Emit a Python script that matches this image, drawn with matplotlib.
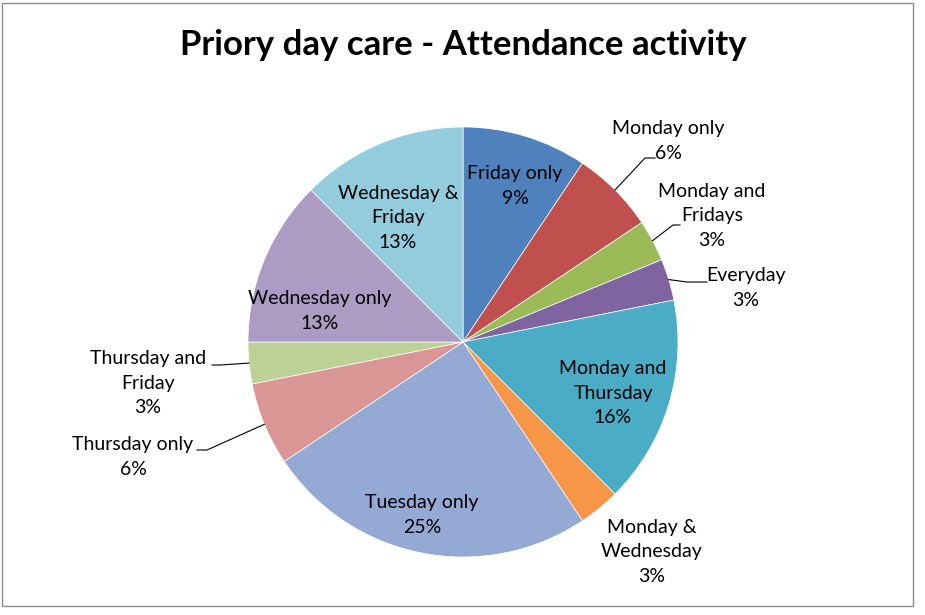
import matplotlib.pyplot as plt
from matplotlib.patches import Rectangle
import numpy as np

plt.rcParams['font.family'] = ['Lato', 'DejaVu Sans']

# attendance counts (32 children), shown as rounded percentages
labels = ["Friday only", "Monday only", "Monday and\nFridays", "Everyday",
          "Monday and\nThursday", "Monday &\nWednesday", "Tuesday only",
          "Thursday only", "Thursday and\nFriday", "Wednesday only",
          "Wednesday &\nFriday"]
counts = [3, 2, 1, 1, 5, 1, 8, 2, 1, 4, 4]
colors = ["#4F81BD", "#C0504D", "#9BBB59", "#8064A2", "#4BACC6", "#F79646",
          "#95A9D5", "#D99694", "#BCD195", "#AC9CC4", "#93CCDD"]

W, H = 925, 615
cx, cy, R = 463, H - 342, 215

# label centres in reference pixels (x from left, y from top)
label_xy = [(515, 186), (668, 141), (712, 216), (746, 288), (613, 393),
            (652, 552), (422, 515), (133, 457), (148, 383), (320, 311),
            (398, 218)]
# leader lines: (elbow, end) in reference pixels, None = no leader
leaders = [None, ((645, 158), (655, 158)), ((673, 225), (680, 225)),
           ((687, 282), (707, 282)), None, None, None,
           ((207, 450), (197, 450)), ((220, 365), (212, 365)), None, None]

fig = plt.figure(figsize=(W / 100, H / 100), dpi=100)
ax = fig.add_axes([0, 0, 1, 1])

wedges, _ = ax.pie(counts, colors=colors, startangle=90, counterclock=False,
                   radius=R, center=(cx, cy), frame=True,
                   wedgeprops=dict(edgecolor='white', linewidth=0.5))
ax.set_xlim(0, W)
ax.set_ylim(0, H)
ax.set_aspect('equal')
ax.axis('off')

total = sum(counts)
for w, lab, n, (lx, ly), ld in zip(wedges, labels, counts, label_xy, leaders):
    pct = int(100 * n / total + 0.5)
    ax.text(lx, H - ly, f"{lab}\n{pct}%", ha='center', va='center', fontsize=14,
            linespacing=1.55, color='black')
    if ld:
        ang = np.deg2rad((w.theta1 + w.theta2) / 2)
        ex, ey = cx + R * np.cos(ang), cy + R * np.sin(ang)
        (kx, ky), (hx, hy) = ld
        ax.plot([ex, kx, hx], [ey, H - ky, H - hy], color='black', linewidth=0.8)

fig.text(463 / W, 1 - 55 / H, "Priory day care - Attendance activity",
         ha='center', va='baseline', fontsize=25, fontweight='bold')

fig.patches.append(Rectangle((2 / W, 9 / H), 911 / W, 603 / H, transform=fig.transFigure,
                             fill=False, edgecolor='#8c8c8c', linewidth=1))

fig.savefig("out.png", dpi=100, facecolor='white')
